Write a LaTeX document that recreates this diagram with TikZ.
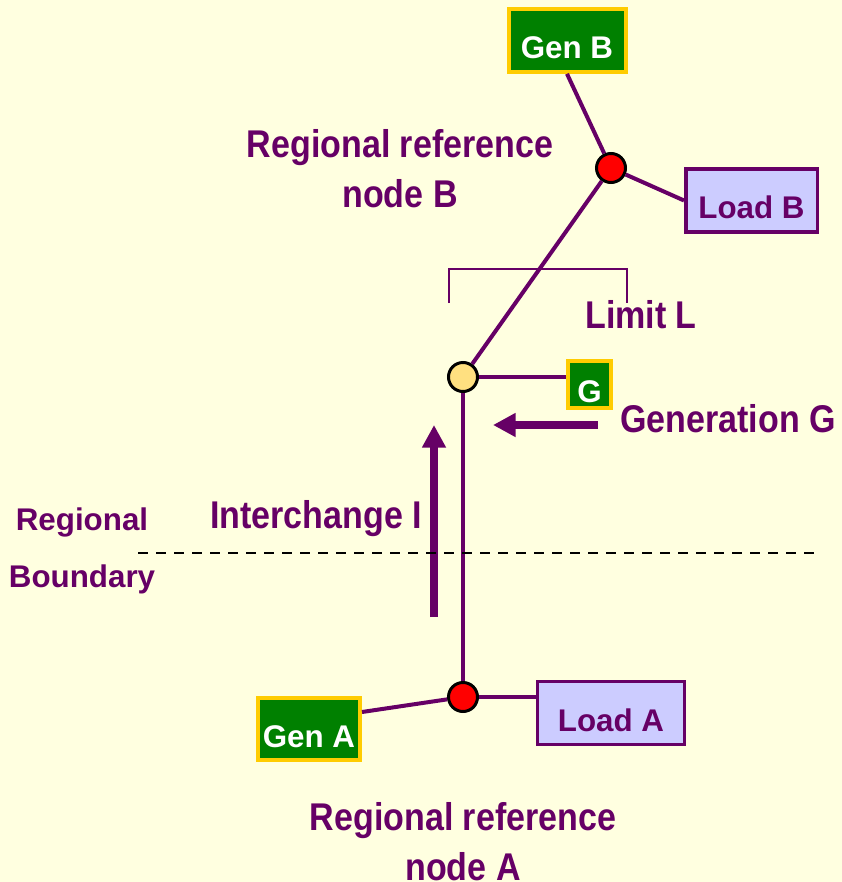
\documentclass[tikz,border=0pt]{standalone}
\usepackage{fontspec}
\setmainfont{Liberation Sans}
\newfontfamily\narrowfont{Liberation Sans}[FakeStretch=0.88]
\usetikzlibrary{arrows.meta,calc}

\definecolor{bgyellow}{HTML}{FFFFE0}
\definecolor{plum}{HTML}{660066}
\definecolor{gengreen}{HTML}{008000}
\definecolor{gold}{HTML}{FFCC00}
\definecolor{lavender}{HTML}{CCCCFF}
\definecolor{busyellow}{HTML}{FFE080}

\begin{document}
\begin{tikzpicture}[x=0.75pt, y=-0.75pt,
    boxfont/.style={font=\fontsize{23.5}{28}\selectfont\bfseries},
    gen/.style={boxfont, draw=gold, fill=gengreen, line width=3pt, text=white,
        inner sep=0pt, text height=37pt, text depth=10pt},
    load/.style={boxfont, draw=plum, fill=lavender, line width=2.6pt, text=plum,
        inner sep=0pt, text height=37pt, text depth=10pt},
    bus/.style={circle, draw=black, line width=2.25pt, minimum size=21.75pt, inner sep=0pt},
    wire/.style={plum, line width=3pt},
    biglabel/.style={text=plum, inner sep=0pt, align=center,
        font=\narrowfont\fontsize{29}{37.5}\selectfont\bfseries},
    flow/.style={plum, line width=5.6pt, -{Triangle[length=17pt,width=17pt]}}]

    % background
    \fill[bgyellow] (0,0) rectangle (842,882);
    \useasboundingbox (0,0) rectangle (842,882);

    % Limit L bracket
    \draw[plum, line width=1.1pt] (449,303) -- (449,269) -- (627,269) -- (627,303);

    % generators and loads
    \node[gen, minimum width=87.75pt] (genB) at (567,40.5) {Gen B};
    \node[load, minimum width=98.6pt] (loadB) at (751.5,200.5) {Load B};
    \node[gen, minimum width=32.25pt, text height=31.1pt, text depth=4.1pt] (gBox) at (589.5,384.5) {G};
    \node[gen, minimum width=76.5pt] (genA) at (309,729) {Gen A};
    \node[load, minimum width=109.9pt] (loadA) at (611,713) {Load A};

    % buses
    \node[bus, fill=red] (nodeB) at (611,168) {};
    \node[bus, fill=busyellow] (nodeY) at (463,377) {};
    \node[bus, fill=red] (nodeA) at (463,697) {};

    % lines
    \draw[wire] (genB.south) -- (nodeB);
    \draw[wire] (nodeB) -- (loadB.west);
    \draw[wire] (nodeB) -- (nodeY);
    \draw[wire] (nodeY) -- (nodeY -| gBox.west);
    \draw[wire] (nodeY) -- (nodeA);
    \draw[wire] ([yshift=12.75pt]genA.east) -- (nodeA);
    \draw[wire] (nodeA) -- (nodeA -| loadA.west);

    % flows
    \draw[flow] (434,617) -- (434,425);
    \draw[flow] (598,425) -- (493,425);

    % regional boundary
    \draw[black, line width=1.5pt, dash pattern=on 7.5pt off 6pt] (138,553) -- (820,553);

    % labels
    \node[biglabel] (refB) at (400,168.5) {Regional reference\\node B};
    \node[biglabel] (refA) at (463,841.5) {Regional reference\\node A};
    \node[biglabel, anchor=base] (limit) at (641,328) {Limit L};
    \node[biglabel, anchor=base] (generation) at (728,432) {Generation G};
    \node[biglabel, anchor=base] (interchange) at (316,528) {Interchange I};
    \node[boxfont, text=plum, inner sep=0pt, anchor=base] (regional) at (82,530) {Regional};
    \node[boxfont, text=plum, inner sep=0pt, anchor=base] (boundary) at (82,587) {Boundary};
\end{tikzpicture}
\end{document}
